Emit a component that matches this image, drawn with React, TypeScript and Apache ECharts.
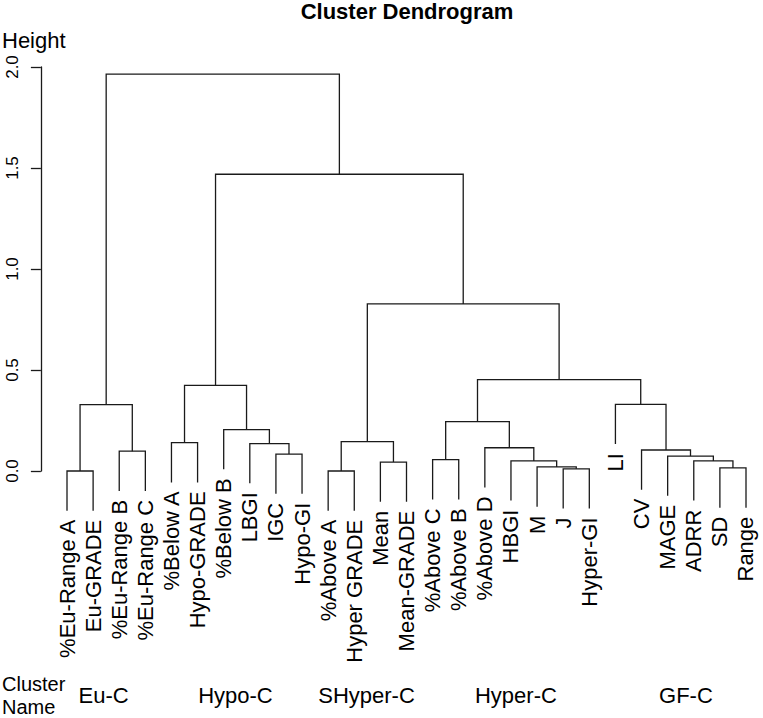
import React, { useEffect, useRef } from "react";
import * as echarts from "echarts";

// Leaf labels in dendrogram order (left to right)
const leafLabels = [
  "%Eu-Range A", "Eu-GRADE", "%Eu-Range B", "%Eu-Range C",
  "%Below A", "Hypo-GRADE", "%Below B", "LBGI", "IGC", "Hypo-GI",
  "%Above A", "Hyper GRADE", "Mean", "Mean-GRADE",
  "%Above C", "%Above B", "%Above D", "HBGI", "M", "J", "Hyper-GI",
  "LI", "CV", "MAGE", "ADRR", "SD", "Range",
];

// R-style merge table: negative = leaf (1-based), positive = earlier merge (1-based)
const mergeLeft = [-1, -11, -20, -26, -19, -13, -18, -25, -15, -24, -9, -3, -23, -17, -8, -5, 2, -7, 9, 1, -22, 16, 19, 17, 22, 20];
const mergeRight = [-2, -12, -21, -27, 3, -14, 5, 4, -16, 8, -10, -4, 10, 7, 11, -6, 6, 15, 14, 12, 13, 18, 21, 23, 24, 25];
const mergeHeights = [
  0.0, 0.0, 0.011, 0.015, 0.02, 0.044, 0.05, 0.05, 0.056, 0.074, 0.084, 0.098, 0.104,
  0.115, 0.136, 0.14, 0.145, 0.205, 0.244, 0.329, 0.33, 0.424, 0.452, 0.827, 1.469, 1.965,
];

const yTicks = [0, 0.5, 1.0, 1.5, 2.0];

const clusterNames = ["Eu-C", "Hypo-C", "SHyper-C", "Hyper-C", "GF-C"];
const clusterCenters = [2.4, 7.45, 12.47, 18.19, 24.7];

const FONT = '"Liberation Sans", Arial, Helvetica, sans-serif';
const LINE = "#1a1a1a";

function buildTree() {
  const hang = 0.1 * Math.max(...mergeHeights);
  const mergeX: number[] = [];
  const leafEnd: number[] = new Array(leafLabels.length).fill(0);
  const segs: number[][] = [];
  const nodeX = (id: number) => (id < 0 ? -id : mergeX[id - 1]);
  const nodeBottom = (id: number, parentH: number) => {
    if (id < 0) {
      const e = parentH - hang;
      leafEnd[-id - 1] = e;
      return e;
    }
    return mergeHeights[id - 1];
  };
  for (let k = 0; k < mergeHeights.length; k++) {
    const l = mergeLeft[k];
    const r = mergeRight[k];
    const h = mergeHeights[k];
    const xl = nodeX(l);
    const xr = nodeX(r);
    mergeX.push((xl + xr) / 2);
    segs.push([xl, nodeBottom(l, h), xr, nodeBottom(r, h), h]);
  }
  return { segs, leafEnd };
}

export default function App() {
  const ref = useRef<HTMLDivElement>(null);
  useEffect(() => {
    if (!ref.current) return;
    const chart = echarts.init(ref.current, undefined, { renderer: "svg" });
    const { segs, leafEnd } = buildTree();
    const option: any = {
      animation: false,
      backgroundColor: "#ffffff",
      title: {
        text: "Cluster Dendrogram",
        left: 407,
        top: 0,
        padding: 0,
        textAlign: "center",
        textStyle: { fontSize: 22, fontWeight: "bold", fontFamily: FONT, color: "#000" },
      },
      grid: { left: 40, right: 0, top: 67, bottom: 247, containLabel: false, outerBoundsMode: "none" },
      xAxis: { type: "value", min: -0.034, max: 27.651, show: false },
      yAxis: {
        type: "value",
        min: 0,
        max: 2,
        interval: 0.5,
        axisLine: { show: true, lineStyle: { color: LINE, width: 1.3 } },
        axisTick: { show: true, length: 10, lineStyle: { color: LINE, width: 1.3 } },
        axisLabel: {
          rotate: 90,
          margin: 19,
          fontSize: 17,
          fontFamily: FONT,
          color: "#000",
          formatter: (v: number) => (yTicks.includes(v) ? v.toFixed(1) : ""),
        },
        splitLine: { show: false },
      },
      graphic: [
        { type: "text", left: 2, top: 29, style: { text: "Height", fontSize: 22, lineHeight: 22, fontFamily: FONT, fill: "#000" } },
        { type: "text", left: 2, top: 672, style: { text: "Cluster\nName", fontSize: 20, lineHeight: 23, fontFamily: FONT, fill: "#000" } },
      ],
      series: [
        {
          type: "custom",
          clip: false,
          silent: true,
          data: segs,
          encode: { x: [0, 2], y: [1, 3, 4] },
          renderItem: (params: any, api: any) => {
            const p1 = api.coord([api.value(0), api.value(1)]);
            const p2 = api.coord([api.value(0), api.value(4)]);
            const p3 = api.coord([api.value(2), api.value(4)]);
            const p4 = api.coord([api.value(2), api.value(3)]);
            return {
              type: "polyline",
              shape: { points: [p1, p2, p3, p4] },
              style: { stroke: LINE, lineWidth: 1.3, fill: null },
            };
          },
        },
        {
          type: "custom",
          clip: false,
          silent: true,
          data: leafLabels.map((_, i) => [i + 1, leafEnd[i]]),
          encode: { x: 0, y: 1 },
          renderItem: (params: any, api: any) => {
            const p = api.coord([api.value(0), api.value(1)]);
            return {
              type: "text",
              x: p[0],
              y: p[1] + 9,
              rotation: Math.PI / 2,
              style: {
                text: leafLabels[params.dataIndex],
                fontSize: 22,
                fontFamily: FONT,
                fill: "#000",
                align: "right",
                textAlign: "right",
                verticalAlign: "middle",
                textVerticalAlign: "middle",
              },
            };
          },
        },
        {
          type: "custom",
          clip: false,
          silent: true,
          data: clusterCenters.map((c) => [c, 0]),
          encode: { x: 0, y: 1 },
          renderItem: (params: any, api: any) => {
            const p = api.coord([api.value(0), 0]);
            return {
              type: "text",
              x: p[0],
              y: 695,
              style: {
                text: clusterNames[params.dataIndex],
                fontSize: 22,
                fontFamily: FONT,
                fill: "#000",
                align: "center",
                textAlign: "center",
                verticalAlign: "middle",
                textVerticalAlign: "middle",
              },
            };
          },
        },
      ],
    };
    chart.setOption(option);
    return () => chart.dispose();
  }, []);
  return (
    <div
      ref={ref}
      style={{ position: "absolute", left: 0, top: 0, width: 763, height: 718 }}
    />
  );
}
